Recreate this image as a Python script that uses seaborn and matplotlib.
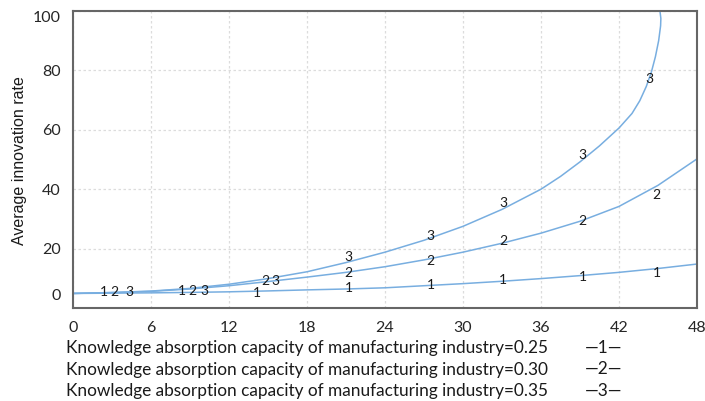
import matplotlib
matplotlib.use("Agg")
import matplotlib.pyplot as plt
import matplotlib.transforms as mtransforms
import seaborn as sns
import pandas as pd

# Average innovation rate for three knowledge-absorption capacities
x_low = [0, 3, 6, 9, 12, 15, 18, 21, 24, 27, 30, 33, 36, 39, 42, 45, 48]
y_low = [4.9, 5.0, 5.1, 5.25, 5.45, 5.75, 6.1, 6.4, 6.8, 7.5, 8.2, 9.0, 9.9, 10.9, 12.0, 13.3, 14.8]

x_mid = [0, 3, 6, 9, 12, 15, 18, 21, 24, 27, 30, 33, 36, 39, 42, 45, 48]
y_mid = [4.9, 5.2, 5.6, 6.4, 7.5, 8.9, 10.4, 12.0, 13.9, 16.2, 18.8, 21.8, 25.2, 29.2, 34.2, 41.3, 50.2]

x_high = [0, 3, 6, 9, 12, 15, 18, 21, 24, 27, 30, 33, 36, 37.5, 39, 40.5, 42, 43, 43.6,
          44.1, 44.5, 44.8, 45.05, 45.2, 45.22, 45.15]
y_high = [4.9, 5.2, 5.7, 6.6, 8.0, 9.9, 12.2, 15.3, 18.8, 22.8, 27.5, 33.2, 40.0, 44.3, 49.2,
          54.6, 60.6, 65.5, 69.8, 74.6, 79.6, 84.6, 90.0, 95.0, 97.5, 100.0]

# curve marker digits placed along the lines
mark_ids = ["1", "2", "3", "1", "2", "3", "1", "2", "3", "3", "2", "1", "3", "2", "1",
            "3", "2", "1", "3", "2", "1", "3", "2", "1"]
mark_x = [2.4, 3.2, 4.3, 8.4, 9.2, 10.1, 14.15, 14.8, 15.6, 21.2, 21.2, 21.2, 27.5, 27.5, 27.5,
          33.1, 33.1, 33.1, 39.2, 39.2, 39.2, 44.3, 44.9, 44.9]
mark_y = [5.4, 5.4, 5.4, 5.7, 5.7, 5.7, 5.1, 9.1, 9.1, 17.2, 11.8, 6.7, 24.2, 15.8, 7.7,
          35.4, 22.6, 9.4, 51.5, 29.3, 10.4, 77.1, 38.0, 11.8]

capacities = ["0.25", "0.30", "0.35"]
x_ticks = [0, 6, 12, 18, 24, 30, 36, 42, 48]
y_ticks = [0, 20, 40, 60, 80, 100]

sns.set_theme(style="white")
plt.rcParams["font.family"] = ["Lato", "DejaVu Sans"]

fig = plt.figure(figsize=(7.05, 4.01), dpi=100)
ax = fig.add_axes([73 / 705, 93 / 401, 624 / 705, 297 / 401])

line_color = "#78aee0"
for xs, ys in [(x_low, y_low), (x_mid, y_mid), (x_high, y_high)]:
    df = pd.DataFrame({"x": xs, "y": ys})
    sns.lineplot(data=df, x="x", y="y", sort=False, estimator=None,
                 color=line_color, linewidth=1.1, ax=ax)

for t, mx, my in zip(mark_ids, mark_x, mark_y):
    ax.text(mx, my, t, ha="center", va="center", fontsize=10, color="#1a1a1a", zorder=5)

ax.set_xlim(0, 48)
ax.set_ylim(0, 100)
ax.set_xticks(x_ticks)
ax.set_yticks(y_ticks)
ax.set_xticklabels([str(v) for v in x_ticks])
ax.set_yticklabels([str(v) for v in y_ticks])
ax.tick_params(axis="both", length=0, labelsize=11.5, labelcolor="#262626")
ax.tick_params(axis="x", pad=9)
ax.tick_params(axis="y", pad=9)

ax.grid(True, color="#dcdcdc", linestyle=(0, (2, 2)), linewidth=0.9)
ax.set_axisbelow(True)
for side in ["left", "bottom", "top", "right"]:
    ax.spines[side].set_color("#666666")
    ax.spines[side].set_linewidth(1.5)

ax.set_xlabel("")
ax.set_ylabel("")
fig.text(20 / 705, 1 - 161 / 401, "Average innovation rate", rotation=90,
         ha="center", va="center", fontsize=11.5, color="#1a1a1a",
         family=["Liberation Sans", "DejaVu Sans"])

# nudge the end labels of the y axis inward
ylabels = ax.get_yticklabels()
ylabels[0].set_transform(ylabels[0].get_transform() +
                         mtransforms.ScaledTranslation(0, 13 / 100, fig.dpi_scale_trans))
ylabels[-1].set_transform(ylabels[-1].get_transform() +
                          mtransforms.ScaledTranslation(0, -6 / 100, fig.dpi_scale_trans))

# key lines below the axis
for i, (cap, num) in enumerate(zip(capacities, ["1", "2", "3"])):
    ypix = 348 + i * 21.5
    fig.text(66 / 705, 1 - ypix / 401,
             f"Knowledge absorption capacity of manufacturing industry={cap}",
             ha="left", va="center", fontsize=12.4, color="#1a1a1a")
    fig.text(585 / 705, 1 - ypix / 401, f"\u2014{num}\u2014",
             ha="left", va="center", fontsize=12.4, color="#1a1a1a")

fig.savefig("out.png", dpi=100)
